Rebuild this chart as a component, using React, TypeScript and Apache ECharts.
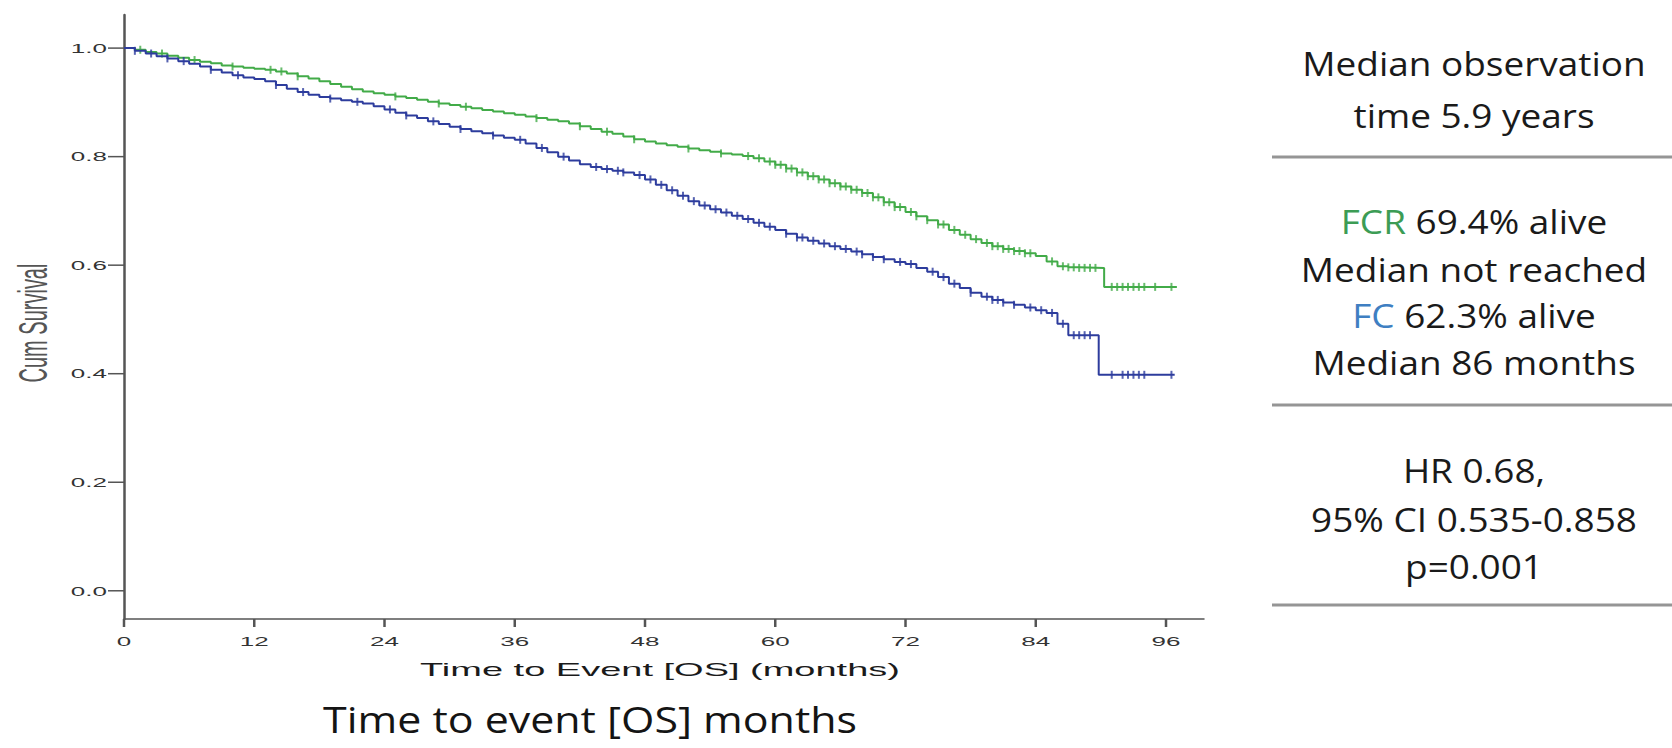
import React, { useEffect, useRef } from "react";
import * as echarts from "echarts";

// ---------------- data ----------------
const X_TICKS = [0, 12, 24, 36, 48, 60, 72, 84, 96];
const X_TICK_LABELS = ["0", "12", "24", "36", "48", "60", "72", "84", "96"];
const Y_TICKS = [0, 0.2, 0.4, 0.6, 0.8, 1.0];
const Y_TICK_LABELS = ["0.0", "0.2", "0.4", "0.6", "0.8", "1.0"];

// FCR arm (green) – Kaplan-Meier estimate
const FCR_TIME = [
  0, 1, 2, 3, 4, 5, 6, 7, 8, 9, 10, 11, 12, 13, 14, 15, 16, 17, 18, 19, 20,
  21, 22, 23, 24, 25, 26, 27, 28, 29, 30, 31, 32, 33, 34, 35, 36, 37, 38, 39,
  40, 41, 42, 43, 44, 45, 46, 47, 48, 49, 50, 51, 52, 53, 54, 55, 56, 57, 58,
  59, 60, 61, 62, 63, 64, 65, 66, 67, 68, 69, 70, 71, 72, 73, 74, 75, 76, 77,
  78, 79, 80, 81, 82, 83, 84, 85, 86, 87, 88, 90.3, 97,
];
const FCR_SURV = [
  1.0, 0.997, 0.993, 0.99, 0.986, 0.982, 0.978, 0.975, 0.972, 0.968, 0.966,
  0.964, 0.962, 0.96, 0.957, 0.953, 0.948, 0.944, 0.939, 0.934, 0.929, 0.924,
  0.92, 0.917, 0.914, 0.911, 0.908, 0.905, 0.901, 0.898, 0.895, 0.892, 0.889,
  0.886, 0.883, 0.88, 0.877, 0.874, 0.871, 0.868, 0.865, 0.861, 0.856, 0.851,
  0.846, 0.842, 0.837, 0.832, 0.828, 0.824, 0.821, 0.818, 0.815, 0.812, 0.809,
  0.806, 0.804, 0.801, 0.797, 0.791, 0.785, 0.778, 0.771, 0.764, 0.758, 0.751,
  0.745, 0.739, 0.733, 0.725, 0.716, 0.707, 0.698, 0.69, 0.683, 0.675, 0.665,
  0.656, 0.648, 0.641, 0.635, 0.63, 0.626, 0.622, 0.617, 0.607, 0.598, 0.596,
  0.595, 0.56, 0.56,
];
const FCR_CENSOR = [
  1.5, 3.5, 6.5, 10, 13.5, 14.5, 16, 25, 29, 31.5, 38, 42, 44.5, 47, 52, 55,
  57.5, 58.5, 59.5, 60, 60.5, 61, 61.5, 62, 62.5, 63, 63.5, 64, 64.5, 65, 65.5,
  66, 66.5, 67, 67.5, 68, 68.5, 69, 69.5, 70, 70.5, 71, 71.5, 72.5, 73, 74, 75,
  75.5, 76.5, 77.5, 78.5, 79.5, 80, 80.5, 81, 81.5, 82, 82.5, 83, 83.5, 85.5,
  86.5, 87, 87.5, 88, 88.5, 89, 89.5, 91, 91.5, 92, 92.5, 93, 93.5, 94, 95,
  96.5,
];

// FC arm (blue)
const FC_TIME = [
  0, 1, 2, 3, 4, 5, 6, 7, 8, 9, 10, 11, 12, 13, 14, 15, 16, 17, 18, 19, 20,
  21, 22, 23, 24, 25, 26, 27, 28, 29, 30, 31, 32, 33, 34, 35, 36, 37, 38, 39,
  40, 41, 42, 43, 44, 45, 46, 47, 48, 49, 50, 51, 52, 53, 54, 55, 56, 57, 58,
  59, 60, 61, 62, 63, 64, 65, 66, 67, 68, 69, 70, 71, 72, 73, 74, 75, 76, 77,
  78, 79, 80, 81, 82, 83, 84, 85, 86, 87, 89.8, 96.8,
];
const FC_SURV = [
  1.0, 0.995, 0.99, 0.985, 0.981, 0.976, 0.971, 0.966, 0.96, 0.955, 0.95,
  0.946, 0.943, 0.939, 0.932, 0.925, 0.919, 0.914, 0.91, 0.907, 0.904, 0.901,
  0.898, 0.893, 0.887, 0.881, 0.876, 0.871, 0.865, 0.86, 0.855, 0.851, 0.847,
  0.843, 0.839, 0.835, 0.831, 0.824, 0.816, 0.808, 0.8, 0.793, 0.786, 0.781,
  0.777, 0.774, 0.771, 0.766, 0.758, 0.748, 0.738, 0.728, 0.718, 0.71, 0.703,
  0.697, 0.691, 0.685, 0.678, 0.671, 0.665, 0.658, 0.651, 0.645, 0.64, 0.635,
  0.63, 0.625, 0.62, 0.615, 0.611, 0.606, 0.602, 0.595, 0.588, 0.578, 0.566,
  0.558, 0.549, 0.542, 0.536, 0.531, 0.527, 0.522, 0.517, 0.512, 0.492, 0.471,
  0.398, 0.398,
];
const FC_CENSOR = [
  1, 2.5, 4, 5.5, 8, 10.5, 14, 16.5, 19, 21.5, 24.5, 26, 28.5, 31, 34, 36.5,
  38.5, 40.5, 43.5, 44.5, 45.5, 46, 47.5, 48.5, 49.5, 50.5, 51.5, 52.5, 53.5,
  54.5, 55.5, 56.5, 57.5, 58.5, 59.5, 61, 62, 62.5, 63.5, 64.5, 65.5, 66.5,
  67.5, 68, 69, 70, 71.5, 72.5, 74.5, 75.5, 76.5, 78, 79.5, 80, 80.5, 81, 82,
  83.5, 84.5, 85.5, 86.5, 87.5, 88, 88.5, 89, 91, 92, 92.5, 93, 93.5, 94, 96.5,
];

const X_MIN = 0;
const X_MAX = 99.5;
const Y_MIN = -0.052;
const Y_MAX = 1.061;

const GREEN = "#42ab48";
const BLUE = "#2d3c9d";
const AXIS = "#555555";

function pairs(t: number[], s: number[]) {
  return t.map((v, i) => [v, s[i]]);
}
function lookup(t: number[], s: number[], x: number) {
  let val = s[0];
  for (let i = 0; i < t.length; i++) {
    if (t[i] <= x) val = s[i];
    else break;
  }
  return val;
}

export default function App() {
  const ref = useRef<HTMLDivElement>(null);
  useEffect(() => {
    if (!ref.current) return;
    const chart = echarts.init(ref.current, undefined, { renderer: "svg" });
    const tickFont = '13px "Liberation Sans", Arial, sans-serif';
    const slideFont = '33px "Open Sans", "Noto Sans", sans-serif';
    const panelX = 1474;
    const panelRows: { text: string; y: number }[] = [
      { text: "Median observation", y: 63 },
      { text: "time 5.9 years", y: 115 },
      { text: "{g|FCR} 69.4% alive", y: 221 },
      { text: "Median not reached", y: 269 },
      { text: "{b|FC} 62.3% alive", y: 315 },
      { text: "Median 86 months", y: 362 },
      { text: "HR 0.68,", y: 470 },
      { text: "95% CI 0.535-0.858", y: 519 },
      { text: "p=0.001", y: 566 },
    ];
    const sepY = [157, 405, 605];

    const option: any = {
      animation: false,
      backgroundColor: "#ffffff",
      grid: { left: 124, top: 15, right: 468, bottom: 129, containLabel: false },
      xAxis: {
        type: "value",
        min: X_MIN,
        max: X_MAX,
        axisLine: { show: true, onZero: false, lineStyle: { color: AXIS, width: 1.5 } },
        axisTick: { show: false },
        axisLabel: { show: false },
        splitLine: { show: false },
      },
      yAxis: {
        type: "value",
        min: Y_MIN,
        max: Y_MAX,
        axisLine: { show: true, onZero: false, lineStyle: { color: AXIS, width: 2.5 } },
        axisTick: { show: false },
        axisLabel: { show: false },
        splitLine: { show: false },
      },
      series: [
        {
          name: "FC",
          type: "line",
          step: "end",
          showSymbol: false,
          data: pairs(FC_TIME, FC_SURV),
          lineStyle: { color: BLUE, width: 2 },
          itemStyle: { color: BLUE },
          z: 3,
        },
        {
          name: "FCR",
          type: "line",
          step: "end",
          showSymbol: false,
          data: pairs(FCR_TIME, FCR_SURV),
          lineStyle: { color: GREEN, width: 2 },
          itemStyle: { color: GREEN },
          z: 2,
        },
        {
          name: "FC censored",
          type: "scatter",
          symbol: "rect",
          symbolSize: [2, 8],
          data: FC_CENSOR.map((c) => [c, lookup(FC_TIME, FC_SURV, c)]),
          itemStyle: { color: BLUE },
          z: 3,
        },
        {
          name: "FCR censored",
          type: "scatter",
          symbol: "rect",
          symbolSize: [2, 8],
          data: FCR_CENSOR.map((c) => [c, lookup(FCR_TIME, FCR_SURV, c)]),
          itemStyle: { color: GREEN },
          z: 2,
        },
        {
          name: "x ticks",
          type: "custom",
          coordinateSystem: "cartesian2d",
          clip: false,
          silent: true,
          data: X_TICKS.map((v) => [v, Y_MIN]),
          renderItem: (params: any, api: any) => {
            const p = api.coord([api.value(0), api.value(1)]);
            return {
              type: "group",
              children: [
                {
                  type: "line",
                  shape: { x1: p[0], y1: p[1], x2: p[0], y2: p[1] + 8 },
                  style: { stroke: AXIS, lineWidth: 2.5 },
                },
                {
                  type: "text",
                  x: p[0],
                  y: p[1] + 22,
                  scaleX: 2,
                  style: {
                    text: X_TICK_LABELS[params.dataIndex],
                    font: tickFont,
                    fill: "#333333",
                    align: "center",
                    verticalAlign: "middle",
                    textAlign: "center",
                    textVerticalAlign: "middle",
                  },
                },
              ],
            };
          },
        },
        {
          name: "y ticks",
          type: "custom",
          coordinateSystem: "cartesian2d",
          clip: false,
          silent: true,
          data: Y_TICKS.map((v) => [X_MIN, v]),
          renderItem: (params: any, api: any) => {
            const p = api.coord([api.value(0), api.value(1)]);
            return {
              type: "group",
              children: [
                {
                  type: "line",
                  shape: { x1: p[0] - 16, y1: p[1], x2: p[0], y2: p[1] },
                  style: { stroke: AXIS, lineWidth: 1.5 },
                },
                {
                  type: "text",
                  x: p[0] - 17,
                  y: p[1],
                  scaleX: 2,
                  style: {
                    text: Y_TICK_LABELS[params.dataIndex],
                    font: tickFont,
                    fill: "#333333",
                    align: "right",
                    verticalAlign: "middle",
                    textAlign: "right",
                    textVerticalAlign: "middle",
                  },
                },
              ],
            };
          },
        },
      ],
      graphic: [
        {
          type: "text",
          x: 33,
          y: 323,
          rotation: Math.PI / 2,
          scaleY: 2,
          style: {
            text: "Cum Survival",
            font: '20px "Liberation Sans", Arial, sans-serif',
            fill: "#555555",
            align: "center",
            verticalAlign: "middle",
            textAlign: "center",
            textVerticalAlign: "middle",
          },
        },
        {
          type: "text",
          x: 660,
          y: 669,
          scaleX: 2,
          style: {
            text: "Time to Event [OS] (months)",
            font: '19px "Liberation Sans", Arial, sans-serif',
            fill: "#1a1a1a",
            align: "center",
            verticalAlign: "middle",
            textAlign: "center",
            textVerticalAlign: "middle",
          },
        },
        {
          type: "text",
          x: 590,
          y: 719,
          scaleX: 1.16,
          style: {
            text: "Time to event [OS] months",
            font: '37px "Open Sans", "Noto Sans", sans-serif',
            lineHeight: 36,
            fill: "#141414",
            align: "center",
            verticalAlign: "middle",
            textAlign: "center",
            textVerticalAlign: "middle",
          },
        },
        ...panelRows.map((r) => ({
          type: "text",
          x: panelX,
          y: r.y,
          scaleX: 1.12,
          style: {
            text: r.text,
            font: slideFont,
            fill: "#1a1a1a",
            align: "center",
            verticalAlign: "middle",
            textAlign: "center",
            textVerticalAlign: "middle",
            rich: {
              g: { fill: "#3c9c55", font: slideFont },
              b: { fill: "#3f7fc2", font: slideFont },
            },
          },
        })),
        ...sepY.map((y) => ({
          type: "line",
          shape: { x1: 1272, y1: y, x2: 1672, y2: y },
          style: { stroke: "#959595", lineWidth: 3 },
        })),
      ],
    };
    chart.setOption(option);
    return () => {
      chart.dispose();
    };
  }, []);
  return (
    <div
      ref={ref}
      style={{ position: "absolute", left: 0, top: 0, width: 1672, height: 748 }}
    />
  );
}
